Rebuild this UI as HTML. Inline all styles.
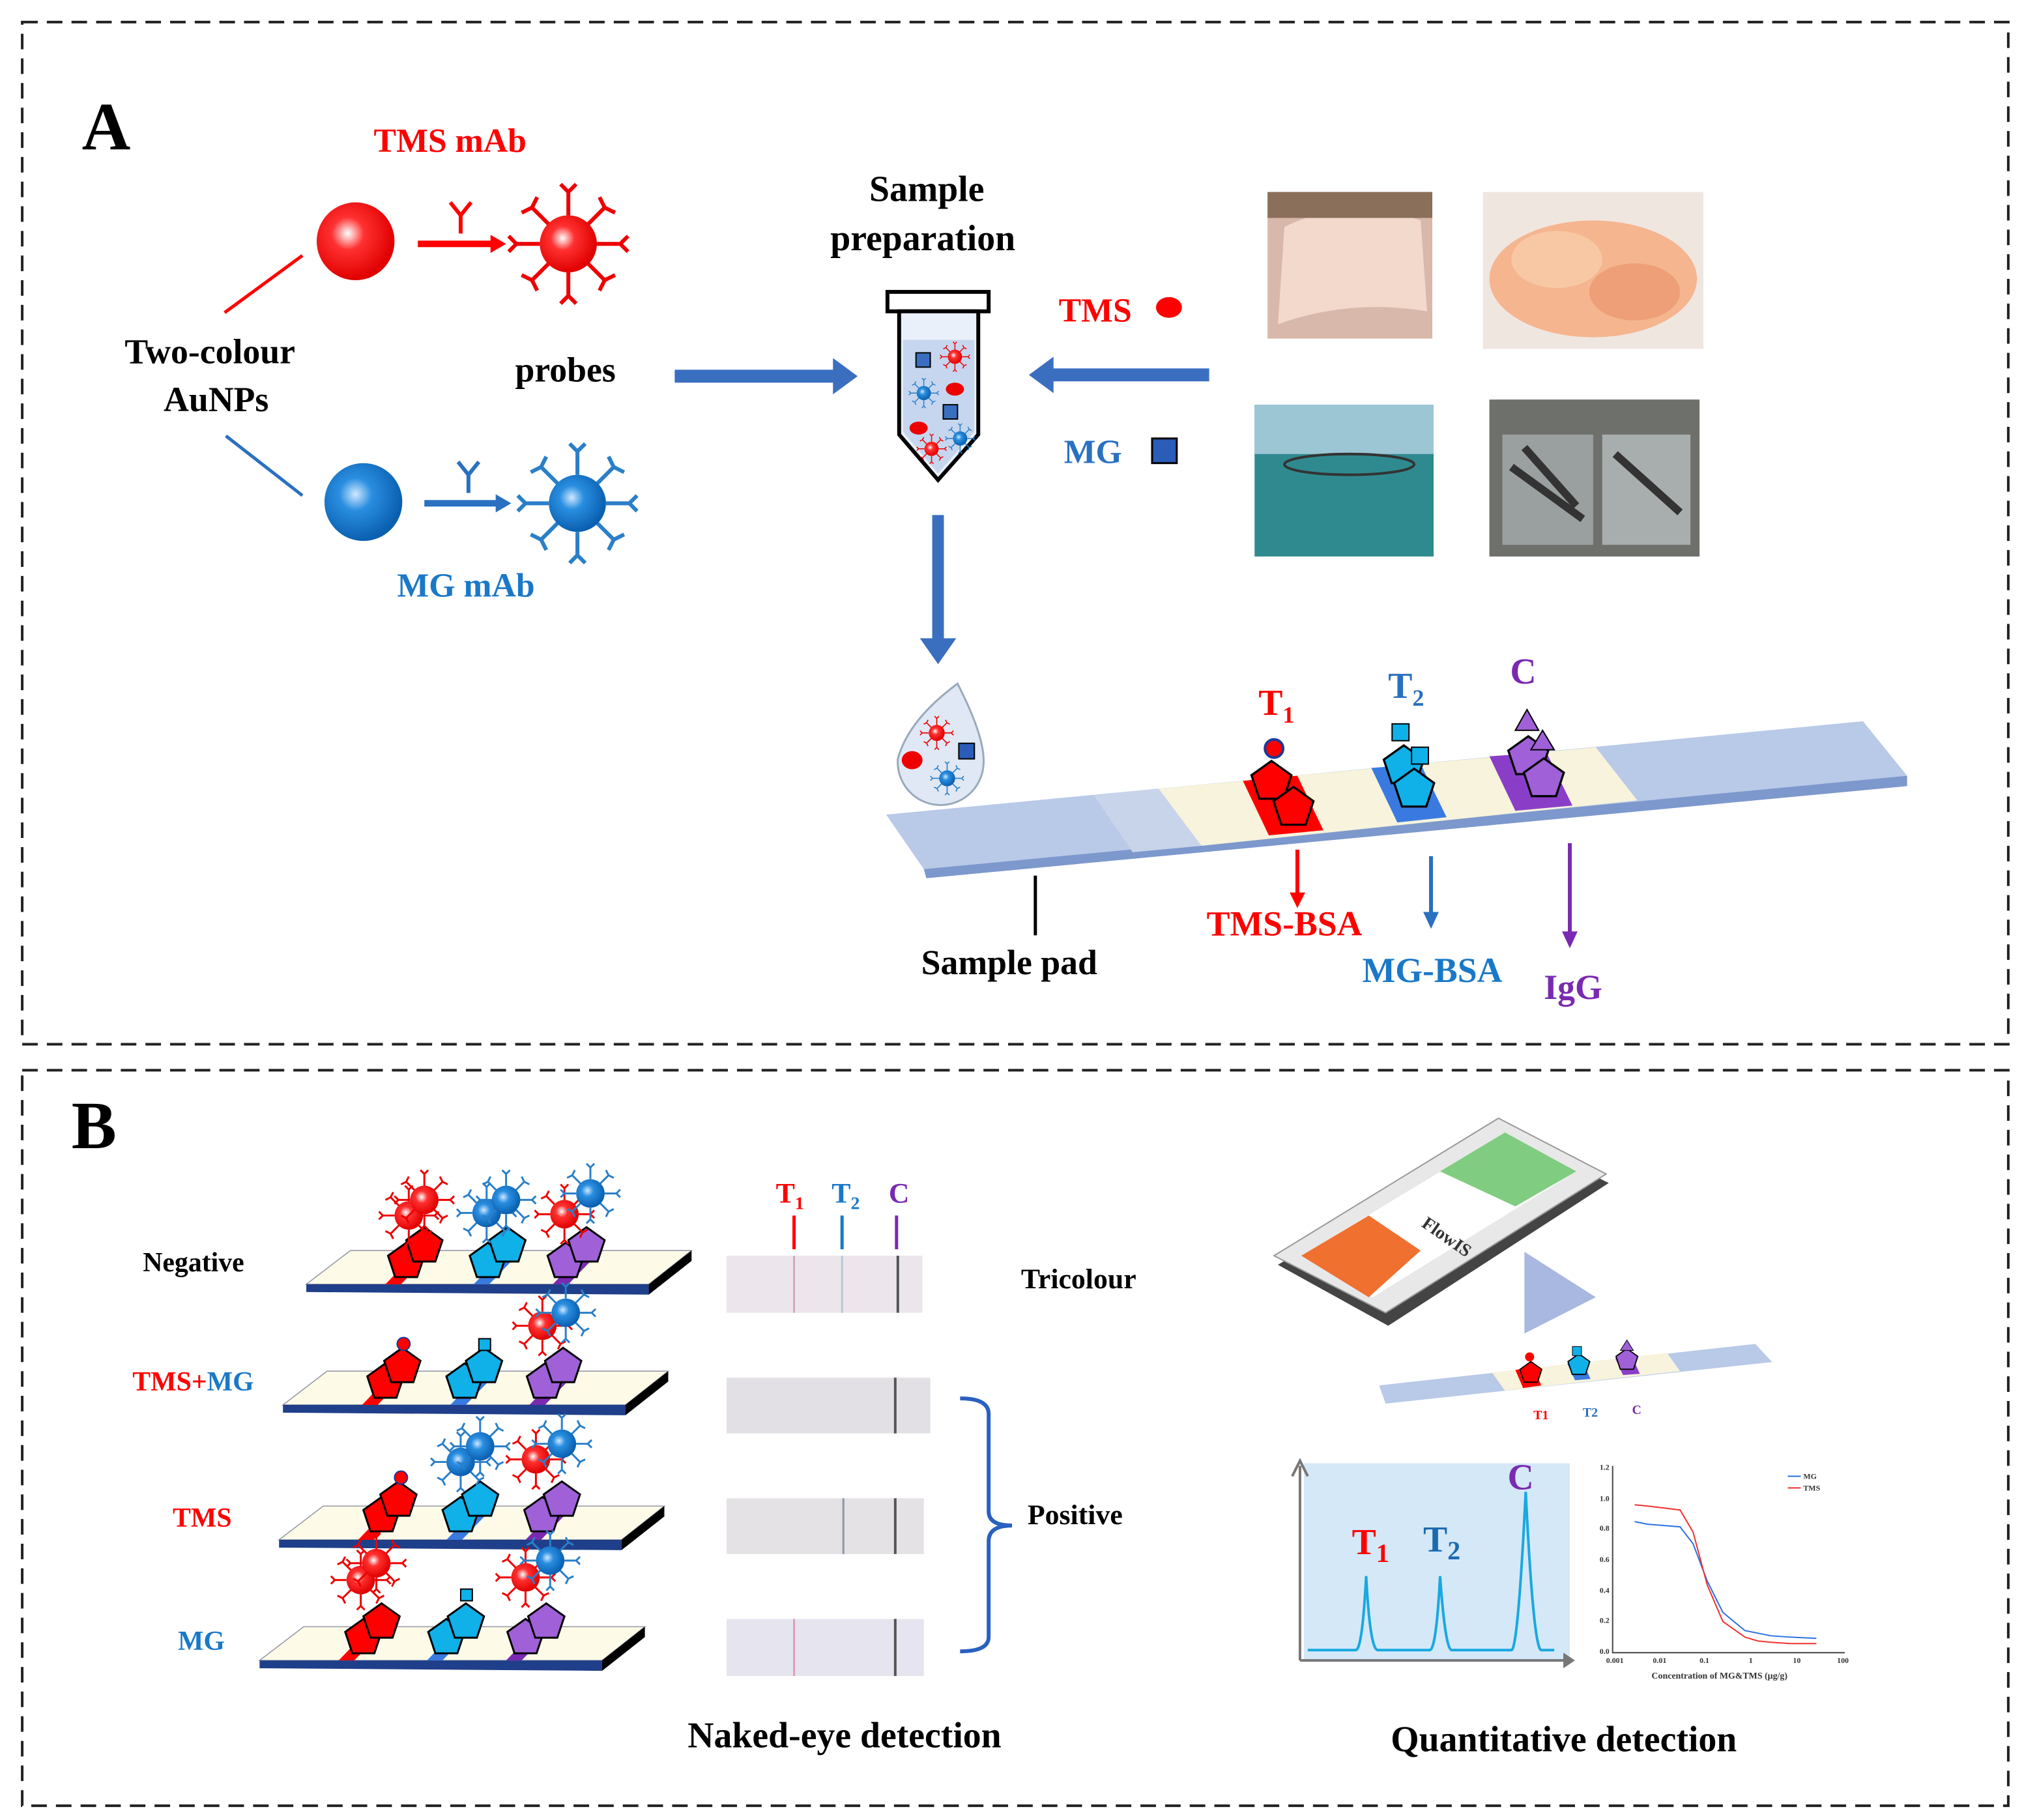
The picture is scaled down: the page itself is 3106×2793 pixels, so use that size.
<!DOCTYPE html>
<html><head><meta charset="utf-8"><style>
html,body{margin:0;padding:0;background:#fff}
svg{display:block}
text{font-family:"Liberation Serif",serif;font-weight:bold}
</style></head><body>
<svg width="3106" height="2793" viewBox="0 0 1560 1403" xmlns="http://www.w3.org/2000/svg">
<defs>
<radialGradient id="rg" cx="0.4" cy="0.4" r="0.6"><stop offset="0" stop-color="#fff"/><stop offset="0.35" stop-color="#ff3030"/><stop offset="1" stop-color="#e00000"/></radialGradient>
<radialGradient id="bg" cx="0.4" cy="0.4" r="0.6"><stop offset="0" stop-color="#cfe8ff"/><stop offset="0.35" stop-color="#2a8ee0"/><stop offset="1" stop-color="#0a5fb0"/></radialGradient>
<symbol id="spk" viewBox="-50 -50 100 100" overflow="visible">
<g stroke-width="3" fill="none">
<path d="M0-22V-40M-6-46L0-40L6-46M0 22V40M-6 46L0 40L6 46M-22 0H-40M-46-6L-40 0L-46 6M22 0H40M46-6L40 0L46 6M15-15L28-28M24-36L28-28L36-24M-15-15L-28-28M-24-36L-28-28L-36-24M15 15L28 28M24 36L28 28L36 24M-15 15L-28 28M-24 36L-28 28L-36 24"/>
</g></symbol>
<g id="rp"><use href="#spk" x="-50" y="-50" width="100" height="100" stroke="#e00"/><circle r="22" fill="url(#rg)"/></g>
<g id="bp"><use href="#spk" x="-50" y="-50" width="100" height="100" stroke="#2a7fc8"/><circle r="22" fill="url(#bg)"/></g>
<polygon id="pent" points="0,-14 14,-4 8.5,12.5 -8.5,12.5 -14,-4" stroke="#000" stroke-width="1.5"/>
</defs>

<rect x="17" y="17" width="1531" height="788" fill="none" stroke="#222" stroke-width="2" stroke-dasharray="12 7"/>
<rect x="17" y="825" width="1531" height="567" fill="none" stroke="#222" stroke-width="2" stroke-dasharray="12 7"/>

<!-- Panel A -->
<text x="63" y="115" font-size="52">A</text>
<text x="288" y="117" font-size="26" fill="#f00">TMS mAb</text>
<circle cx="274" cy="186" r="30" fill="url(#rg)"/>
<line x1="322" y1="188" x2="380" y2="188" stroke="#f00" stroke-width="5"/><path d="M378,181L390,188L378,195z" fill="#f00"/>
<path d="M355,180V166M347,156L355,166L363,156" stroke="#f00" stroke-width="3" fill="none"/>
<use href="#rp" transform="translate(438,188)"/>
<line x1="173" y1="241" x2="233" y2="197" stroke="#f00" stroke-width="2.5"/>
<text x="96" y="280" font-size="27">Two-colour</text>
<text x="126" y="317" font-size="27">AuNPs</text>
<line x1="174" y1="336" x2="233" y2="382" stroke="#2a70c0" stroke-width="2.5"/>
<circle cx="280" cy="387" r="30" fill="url(#bg)"/>
<line x1="327" y1="388" x2="384" y2="388" stroke="#2a70c0" stroke-width="5"/><path d="M382,381L394,388L382,395z" fill="#2a70c0"/>
<path d="M361,380V366M353,356L361,366L369,356" stroke="#2a70c0" stroke-width="3" fill="none"/>
<use href="#bp" transform="translate(445,388)"/>
<text x="306" y="460" font-size="26" fill="#1a78c8">MG mAb</text>
<text x="397" y="294" font-size="27">probes</text>
<path d="M520,290H645" stroke="#3a6fc0" stroke-width="10"/><path d="M642,276L661,290L642,304z" fill="#3a6fc0"/>
<text x="670" y="155" font-size="28">Sample</text>
<text x="640" y="193" font-size="28">preparation</text>
<rect x="684" y="225" width="78" height="15" fill="#fff" stroke="#000" stroke-width="3"/>
<path d="M693,240H754V335L723,370L693,335Z" fill="#eaf0fa" stroke="#000" stroke-width="3"/>
<path d="M696,262H751V333L723,365L696,333Z" fill="#c6d6ee"/>
<rect x="706" y="272" width="11" height="11" fill="#3a6fc0" stroke="#000"/><rect x="727" y="312" width="11" height="11" fill="#3a6fc0" stroke="#000"/>
<ellipse cx="736" cy="300" rx="7" ry="5" fill="#e00"/><ellipse cx="708" cy="330" rx="7" ry="5" fill="#e00"/>
<use href="#rp" transform="translate(736,275) scale(0.25)"/><use href="#rp" transform="translate(718,346) scale(0.25)"/>
<use href="#bp" transform="translate(712,303) scale(0.25)"/><use href="#bp" transform="translate(740,338) scale(0.25)"/>
<path d="M932,289H810" stroke="#3a6fc0" stroke-width="10"/><path d="M812,275L793,289L812,303z" fill="#3a6fc0"/>
<text x="816" y="248" font-size="26" fill="#f00">TMS</text>
<ellipse cx="901" cy="237" rx="10" ry="8" fill="#f00"/>
<text x="820" y="357" font-size="26" fill="#2a70c0">MG</text>
<rect x="888" y="338" width="19" height="19" fill="#2a5cb8" stroke="#000" stroke-width="1.5"/>
<rect x="977" y="148" width="127" height="113" fill="#d8b8aa"/><path d="M990,175Q1040,150 1095,170L1100,240Q1040,230 985,250Z" fill="#f3d8cc"/><rect x="977" y="148" width="127" height="20" fill="#8a6f5a"/>
<rect x="1143" y="148" width="170" height="121" fill="#f0e6e0"/><ellipse cx="1228" cy="215" rx="80" ry="45" fill="#f5b58f"/><ellipse cx="1200" cy="200" rx="35" ry="22" fill="#f8c8a4"/><ellipse cx="1260" cy="225" rx="35" ry="22" fill="#ee9f78"/>
<rect x="967" y="312" width="138" height="117" fill="#2f8a90"/><rect x="967" y="312" width="138" height="38" fill="#9cc6d4"/><ellipse cx="1040" cy="358" rx="50" ry="8" fill="none" stroke="#333" stroke-width="2"/>
<rect x="1148" y="308" width="162" height="121" fill="#6e706c"/><rect x="1158" y="335" width="70" height="85" fill="#9aa0a0"/><rect x="1235" y="335" width="68" height="85" fill="#a8aeae"/><path d="M1165,360L1220,400M1175,345L1215,390M1245,350L1295,395" stroke="#333" stroke-width="6"/>
<path d="M723,397V495" stroke="#3a6fc0" stroke-width="9"/><path d="M709,492L723,512L737,492z" fill="#3a6fc0"/>
<path d="M738,527Q760,570 758,590A32,32 0 1 1 692,585Q700,555 738,527Z" fill="#dfe8f4" stroke="#9ab" stroke-width="1.5"/>
<ellipse cx="703" cy="586" rx="8" ry="7" fill="#e00"/><rect x="739" y="573" width="12" height="12" fill="#2a5cb8" stroke="#000"/>
<use href="#rp" transform="translate(722,565) scale(0.28)"/><use href="#bp" transform="translate(730,600) scale(0.28)"/>
<polygon points="683,628 1436,556 1470,598 712,670" fill="#b9c9e8"/>
<polygon points="712,670 1470,598 1470,606 714,677" fill="#7d98cc"/>
<polygon points="893,608 1230,576 1262,617 926,652" fill="#f7f3dc"/>
<polygon points="843,613 893,608 926,652 873,657" fill="#c8d4ea"/>
<polygon points="958,602 1000,598 1020,640 978,644" fill="#f00"/>
<polygon points="1057,592 1095,589 1115,630 1077,634" fill="#3a7ae0"/>
<polygon points="1148,583 1192,580 1212,621 1168,625" fill="#8a3ec8"/>
<use href="#pent" transform="translate(980,602) scale(1.1)" fill="#f00"/><use href="#pent" transform="translate(997,622) scale(1.1)" fill="#f00"/>
<circle cx="982" cy="577" r="7" fill="#f00" stroke="#1a3a9a" stroke-width="2"/>
<use href="#pent" transform="translate(1082,590) scale(1.1)" fill="#10b0e8"/><use href="#pent" transform="translate(1090,608) scale(1.1)" fill="#10b0e8"/>
<rect x="1073" y="558" width="13" height="13" fill="#10b0e8" stroke="#000"/><rect x="1088" y="576" width="13" height="13" fill="#10b0e8" stroke="#000"/>
<use href="#pent" transform="translate(1178,583) scale(1.1)" fill="#a060d8"/><use href="#pent" transform="translate(1190,600) scale(1.1)" fill="#a060d8"/>
<path d="M1168,563L1177,547L1186,563Z M1180,578L1189,563L1198,578Z" fill="#a060d8" stroke="#000"/>
<text x="970" y="551" font-size="28" fill="#f00">T<tspan font-size="18" dy="6">1</tspan></text>
<text x="1070" y="538" font-size="28" fill="#2a70c0">T<tspan font-size="18" dy="6">2</tspan></text>
<text x="1164" y="527" font-size="28" fill="#7a2ab0">C</text>
<line x1="798" y1="675" x2="798" y2="721" stroke="#000" stroke-width="2.5"/>
<text x="710" y="751" font-size="27">Sample pad</text>
<line x1="1000" y1="655" x2="1000" y2="690" stroke="#f00" stroke-width="3"/><path d="M994,688L1000,700L1006,688z" fill="#f00"/>
<text x="930" y="721" font-size="27" fill="#f00">TMS-BSA</text>
<line x1="1103" y1="660" x2="1103" y2="705" stroke="#2a70c0" stroke-width="3"/><path d="M1097,703L1103,716L1109,703z" fill="#2a70c0"/>
<text x="1050" y="757" font-size="27" fill="#1a78c8">MG-BSA</text>
<line x1="1210" y1="650" x2="1210" y2="720" stroke="#7a2ab0" stroke-width="3"/><path d="M1204,718L1210,731L1216,718z" fill="#7a2ab0"/>
<text x="1190" y="770" font-size="27" fill="#7a2ab0">IgG</text>

<!-- Panel B -->
<text x="55" y="885" font-size="52">B</text>
<g id="s1">
<polygon points="236,990 270,964 533,964 500,990" fill="#fdfbe8" stroke="#99a" stroke-width="0.8"/>
<polygon points="236,990 500,990 500,998 236,996" fill="#1f3f8a"/>
<polygon points="500,990 533,964 533,972 500,998" fill="#000"/>
<polygon points="297,990 322,964 334,964 309,990" fill="#f00"/>
<polygon points="365,990 390,964 402,964 377,990" fill="#3a7ae0"/>
<polygon points="426,990 451,964 463,964 438,990" fill="#7a2ab0"/>
</g>
<g transform="translate(-18,93)"><use href="#s1"/></g>
<g transform="translate(-21,197)"><use href="#s1"/></g>
<g transform="translate(-36,290)"><use href="#s1"/></g>
<g>
<use href="#pent" transform="translate(313,972)" fill="#f00"/><use href="#pent" transform="translate(327,960)" fill="#f00"/>
<use href="#pent" transform="translate(376,972)" fill="#10b0e8"/><use href="#pent" transform="translate(391,960)" fill="#10b0e8"/>
<use href="#pent" transform="translate(436,972)" fill="#a060d8"/><use href="#pent" transform="translate(452,960)" fill="#a060d8"/>
<use href="#rp" transform="translate(315,937) scale(0.5)"/><use href="#rp" transform="translate(327,925) scale(0.5)"/>
<use href="#bp" transform="translate(375,935) scale(0.5)"/><use href="#bp" transform="translate(390,925) scale(0.5)"/>
<use href="#rp" transform="translate(435,936) scale(0.5)"/><use href="#bp" transform="translate(455,920) scale(0.5)"/>
</g>
<g>
<use href="#pent" transform="translate(297,1065)" fill="#f00"/><use href="#pent" transform="translate(310,1053)" fill="#f00"/><circle cx="311" cy="1036" r="5" fill="#f00" stroke="#1a3a9a"/>
<use href="#pent" transform="translate(358,1065)" fill="#10b0e8"/><use href="#pent" transform="translate(373,1053)" fill="#10b0e8"/><rect x="369" y="1032" width="9" height="9" fill="#10b0e8" stroke="#000"/>
<use href="#pent" transform="translate(420,1065)" fill="#a060d8"/><use href="#pent" transform="translate(434,1053)" fill="#a060d8"/>
<use href="#rp" transform="translate(418,1022) scale(0.5)"/><use href="#bp" transform="translate(436,1012) scale(0.5)"/>
</g>
<g>
<use href="#pent" transform="translate(294,1168)" fill="#f00"/><use href="#pent" transform="translate(307,1156)" fill="#f00"/><circle cx="309" cy="1139" r="5" fill="#f00" stroke="#1a3a9a"/>
<use href="#pent" transform="translate(355,1168)" fill="#10b0e8"/><use href="#pent" transform="translate(370,1156)" fill="#10b0e8"/>
<use href="#pent" transform="translate(418,1168)" fill="#a060d8"/><use href="#pent" transform="translate(433,1156)" fill="#a060d8"/>
<use href="#bp" transform="translate(355,1127) scale(0.5)"/><use href="#bp" transform="translate(370,1115) scale(0.5)"/>
<use href="#rp" transform="translate(413,1125) scale(0.5)"/><use href="#bp" transform="translate(433,1113) scale(0.5)"/>
</g>
<g>
<use href="#pent" transform="translate(280,1262)" fill="#f00"/><use href="#pent" transform="translate(294,1250)" fill="#f00"/>
<use href="#pent" transform="translate(344,1262)" fill="#10b0e8"/><use href="#pent" transform="translate(359,1250)" fill="#10b0e8"/><rect x="355" y="1225" width="9" height="9" fill="#10b0e8" stroke="#000"/>
<use href="#pent" transform="translate(405,1262)" fill="#a060d8"/><use href="#pent" transform="translate(421,1250)" fill="#a060d8"/>
<use href="#rp" transform="translate(278,1218) scale(0.5)"/><use href="#rp" transform="translate(290,1205) scale(0.5)"/>
<use href="#rp" transform="translate(405,1216) scale(0.5)"/><use href="#bp" transform="translate(424,1203) scale(0.5)"/>
</g>
<g font-size="21">
<text x="110" y="980">Negative</text>
<text x="102" y="1072"><tspan fill="#f00">TMS+</tspan><tspan fill="#1a78c8">MG</tspan></text>
<text x="133" y="1177" fill="#f00">TMS</text>
<text x="137" y="1272" fill="#1a78c8">MG</text>
</g>
<g>
<rect x="560" y="968" width="151" height="44" fill="#ece6ec"/><line x1="612" y1="968" x2="612" y2="1012" stroke="#d8a8b8" stroke-width="1.5"/><line x1="649" y1="968" x2="649" y2="1012" stroke="#b8c8d8" stroke-width="1.5"/><line x1="692" y1="968" x2="692" y2="1012" stroke="#555" stroke-width="2"/>
<rect x="560" y="1062" width="157" height="43" fill="#e2e0e4"/><line x1="690" y1="1062" x2="690" y2="1105" stroke="#555" stroke-width="2"/>
<rect x="560" y="1155" width="152" height="43" fill="#e4e2e4"/><line x1="650" y1="1155" x2="650" y2="1198" stroke="#8898a8" stroke-width="1.5"/><line x1="690" y1="1155" x2="690" y2="1198" stroke="#555" stroke-width="2"/>
<rect x="560" y="1248" width="152" height="44" fill="#e6e4ee"/><line x1="612" y1="1248" x2="612" y2="1292" stroke="#d8a0b8" stroke-width="1.5"/><line x1="690" y1="1248" x2="690" y2="1292" stroke="#555" stroke-width="2"/>
</g>
<text x="598" y="927" font-size="22" fill="#f00">T<tspan font-size="14" dy="5">1</tspan></text>
<text x="641" y="927" font-size="22" fill="#1a78c8">T<tspan font-size="14" dy="5">2</tspan></text>
<text x="685" y="927" font-size="22" fill="#7a2ab0">C</text>
<line x1="612" y1="937" x2="612" y2="963" stroke="#f00" stroke-width="2.5"/>
<line x1="649" y1="937" x2="649" y2="963" stroke="#1a78c8" stroke-width="2.5"/>
<line x1="691" y1="937" x2="691" y2="963" stroke="#7a2ab0" stroke-width="2.5"/>
<text x="787" y="993" font-size="22">Tricolour</text>
<path d="M740,1078Q762,1078 762,1090V1165Q762,1176 780,1176Q762,1176 762,1188V1262Q762,1273 740,1273" fill="none" stroke="#2a60c0" stroke-width="3"/>
<text x="792" y="1175" font-size="22">Positive</text>
<text x="530" y="1347" font-size="28">Naked-eye detection</text>
<text x="1072" y="1350" font-size="28">Quantitative detection</text>
<!-- phone -->
<polygon points="985,975 1157,870 1240,912 1070,1022" fill="#444"/>
<polygon points="982,968 1155,862 1238,905 1068,1012" fill="#e8e8e8" stroke="#999"/>
<polygon points="1003,968 1160,873 1215,903 1058,1000" fill="#fff"/>
<polygon points="1003,968 1055,937 1095,964 1055,1000" fill="#f07030"/>
<polygon points="1110,903 1160,873 1215,903 1168,930" fill="#80cc80"/>
<text x="1095" y="945" font-size="14" fill="#333" transform="rotate(35 1095 945)">FlowIS</text>
<polygon points="1175,965 1175,1028 1230,1000" fill="#a8b8e0"/>
<polygon points="1063,1068 1353,1036 1366,1050 1068,1082" fill="#b9c9e8"/>
<polygon points="1150,1058 1285,1043 1295,1057 1160,1072" fill="#f7f3dc"/>
<polygon points="1168,1056 1182,1054 1188,1068 1174,1070" fill="#f00"/>
<polygon points="1208,1051 1220,1050 1226,1063 1214,1064" fill="#3a7ae0"/>
<polygon points="1245,1047 1258,1046 1264,1059 1251,1060" fill="#8a3ec8"/>
<use href="#pent" transform="translate(1180,1058) scale(0.6)" fill="#f00"/><circle cx="1179" cy="1046" r="3.5" fill="#f00"/>
<use href="#pent" transform="translate(1217,1052) scale(0.6)" fill="#10b0e8"/><rect x="1212" y="1038" width="7" height="7" fill="#10b0e8" stroke="#000" stroke-width="0.5"/>
<use href="#pent" transform="translate(1254,1048) scale(0.6)" fill="#a060d8"/><path d="M1249,1041L1254,1033L1259,1041Z" fill="#a060d8" stroke="#000" stroke-width="0.5"/>
<text x="1182" y="1094" font-size="10" fill="#f00">T1</text><text x="1220" y="1092" font-size="10" fill="#2a70c0">T2</text><text x="1258" y="1090" font-size="10" fill="#7a2ab0">C</text>
<rect x="1005" y="1128" width="205" height="152" fill="#d4e8f8"/>
<path d="M1002,1280V1130M996,1138L1002,1126L1008,1138" stroke="#777" stroke-width="2" fill="none"/>
<path d="M1002,1280H1210" stroke="#777" stroke-width="2"/><path d="M1205,1274L1214,1280L1205,1286z" fill="#777"/>
<path d="M1008,1272H1045Q1050,1272 1053,1215Q1056,1272 1062,1272H1102Q1107,1272 1110,1215Q1114,1272 1119,1272H1165Q1170,1272 1176,1150Q1182,1272 1188,1272H1198" fill="none" stroke="#19a8e0" stroke-width="2"/>
<text x="1042" y="1198" font-size="28" fill="#f00">T<tspan font-size="20" dy="6">1</tspan></text>
<text x="1097" y="1196" font-size="28" fill="#1a6ab0">T<tspan font-size="20" dy="6">2</tspan></text>
<text x="1162" y="1148" font-size="28" fill="#7a2ab0">C</text>
<path d="M1243,1130V1274H1422" stroke="#444" stroke-width="1" fill="none"/>
<g font-size="6" fill="#333" font-weight="normal" style="font-family:'Liberation Sans',sans-serif">
<text x="1233" y="1133">1.2</text><text x="1233" y="1157">1.0</text><text x="1233" y="1180">0.8</text><text x="1233" y="1204">0.6</text><text x="1233" y="1228">0.4</text><text x="1233" y="1251">0.2</text><text x="1233" y="1275">0.0</text>
<text x="1238" y="1282">0.001</text><text x="1274" y="1282">0.01</text><text x="1310" y="1282">0.1</text><text x="1348" y="1282">1</text><text x="1382" y="1282">10</text><text x="1416" y="1282">100</text>
<text x="1273" y="1294" font-size="7">Concentration of MG&amp;TMS (μg/g)</text>
<text x="1390" y="1140">MG</text><text x="1390" y="1149">TMS</text>
</g>
<path d="M1378,1138H1388" stroke="#2a70e0"/><path d="M1378,1147H1388" stroke="#f03030"/>
<path d="M1260,1173L1270,1175L1295,1177L1305,1190L1316,1219L1328,1243L1345,1257L1355,1259L1365,1261L1380,1262L1400,1263" fill="none" stroke="#2a70e0" stroke-width="1"/>
<path d="M1260,1160L1270,1161L1295,1164L1305,1181L1316,1222L1328,1250L1345,1262L1355,1265L1365,1266L1380,1267L1400,1267" fill="none" stroke="#f03030" stroke-width="1"/>
</svg>
</body></html>
